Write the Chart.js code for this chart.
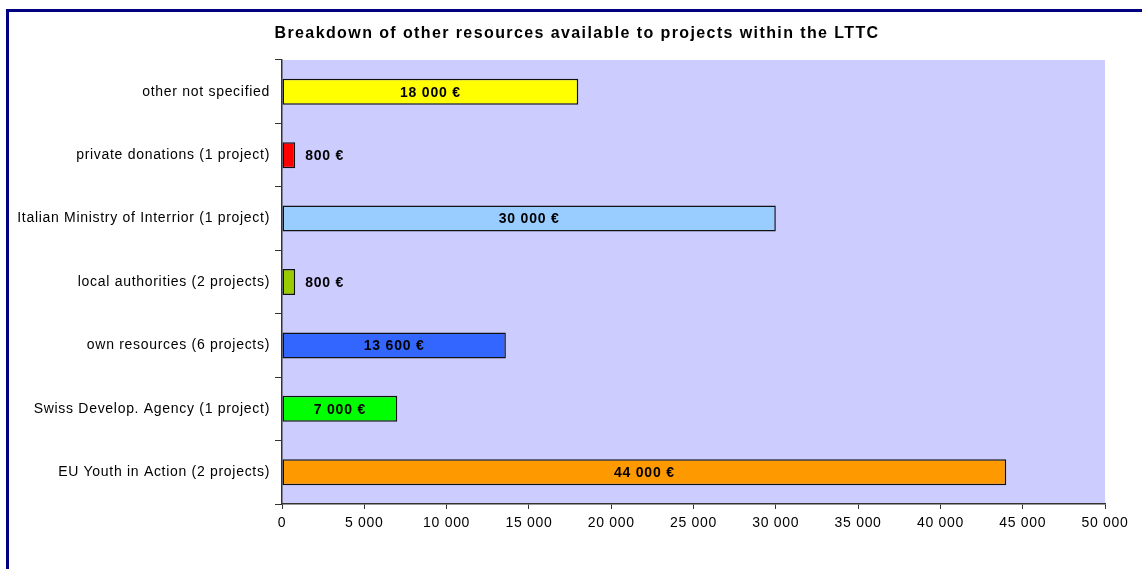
<!DOCTYPE html>
<html>
<head>
<meta charset="utf-8">
<script src="https://cdn.jsdelivr.net/npm/chart.js@4/dist/chart.umd.min.js"></script>
<style>
  html, body { margin: 0; padding: 0; background: #fff; overflow: hidden; }
  #wrap { position: relative; width: 1142px; height: 569px; }
  #frame { position: absolute; left: 6px; top: 9px; width: 1160px; height: 590px; border: 3px solid #000080; box-sizing: border-box; pointer-events: none; }
  canvas { position: absolute; left: 0; top: 0; }
</style>
</head>
<body>
<div id="wrap">
  <canvas id="grafico" width="1142" height="569"></canvas>
  <div id="frame"></div>
</div>
<script>
// Recursos por fonte (de cima para baixo)
const categorias = [
    'other not specified',
    'private donations (1 project)',
    'Italian Ministry of Interrior (1 project)',
    'local authorities (2 projects)',
    'own resources (6 projects)',
    'Swiss Develop. Agency (1 project)',
    'EU Youth in Action (2 projects)'
];
const valores = [18000, 800, 30000, 800, 13600, 7000, 44000];
const cores = ['#FFFF00', '#FF0000', '#99CCFF', '#99CC00', '#3366FF', '#00FF00', '#FF9900'];
const ticksX = [0, 5000, 10000, 15000, 20000, 25000, 30000, 35000, 40000, 45000, 50000];
const titulo = 'Breakdown of other resources available to projects within the LTTC';

const fonte = '"Liberation Sans", Arial, sans-serif';
const espaco = '0.7px';

function formatar(n) {
    return String(n).replace(/\B(?=(\d{3})+(?!\d))/g, ' ');
}

// texto um pouco mais largo
const espacamento = {
    id: 'espacamento',
    beforeLayout(chart) { chart.ctx.letterSpacing = espaco; },
    beforeDraw(chart) { chart.ctx.letterSpacing = espaco; }
};

// fundo lilás da área do gráfico
const fundoArea = {
    id: 'fundoArea',
    beforeDraw(chart) {
        const { ctx, chartArea: a } = chart;
        ctx.save();
        ctx.fillStyle = '#CCCCFF';
        ctx.fillRect(a.left, a.top, a.right - a.left, a.bottom - a.top);
        ctx.restore();
    }
};

// título
const tituloPlugin = {
    id: 'tituloPlugin',
    afterDraw(chart) {
        const ctx = chart.ctx;
        ctx.save();
        ctx.letterSpacing = '1.4px';
        ctx.font = 'bold 16px ' + fonte;
        ctx.fillStyle = '#000';
        ctx.textAlign = 'center';
        ctx.textBaseline = 'middle';
        ctx.fillText(titulo, 577, 34);
        ctx.restore();
    }
};

// rótulos de valor: dentro da barra, ou à direita se a barra for curta
const rotulos = {
    id: 'rotulos',
    afterDatasetsDraw(chart) {
        const ctx = chart.ctx;
        const meta = chart.getDatasetMeta(0);
        ctx.save();
        ctx.letterSpacing = '0.8px';
        ctx.font = 'bold 14px ' + fonte;
        ctx.fillStyle = '#000';
        ctx.textBaseline = 'middle';
        meta.data.forEach((bar, i) => {
            const texto = formatar(valores[i]) + ' €';
            const largura = bar.x - bar.base;
            if (largura > ctx.measureText(texto).width + 10) {
                ctx.textAlign = 'center';
                ctx.fillText(texto, (bar.x + bar.base) / 2, bar.y + 1);
            } else {
                ctx.textAlign = 'left';
                ctx.fillText(texto, bar.x + 10, bar.y + 1);
            }
        });
        ctx.restore();
    }
};

const ctx = document.getElementById('grafico').getContext('2d');
const grafico = new Chart(ctx, {
    type: 'bar',
    data: {
        labels: categorias,
        datasets: [{
            data: valores,
            backgroundColor: cores,
            borderColor: '#111',
            borderWidth: 1.5,
            borderSkipped: false,
            barPercentage: 0.41,
            categoryPercentage: 1
        }]
    },
    options: {
        indexAxis: 'y',
        responsive: false,
        animation: false,
        layout: { padding: { left: 0, right: 37, top: 60, bottom: 0 } },
        plugins: {
            legend: { display: false },
            tooltip: { enabled: false },
            title: { display: false }
        },
        scales: {
            x: {
                min: 0,
                max: 50000,
                afterBuildTicks(scale) {
                    scale.ticks = ticksX.map(v => ({ value: v }));
                },
                afterFit(scale) { scale.height = 65; },
                grid: { drawOnChartArea: false, tickLength: 5, color: '#333' },
                border: { color: '#333', width: 1.5 },
                ticks: {
                    color: '#000',
                    padding: 6,
                    maxRotation: 0,
                    font: { family: fonte, size: 14 },
                    callback: v => formatar(v)
                }
            },
            y: {
                afterFit(scale) { scale.width = 282; },
                grid: { drawOnChartArea: false, offset: true, tickLength: 7, color: '#333' },
                border: { color: '#333', width: 1.5 },
                ticks: {
                    color: '#000',
                    padding: 5,
                    font: { family: fonte, size: 14 }
                }
            }
        }
    },
    plugins: [espacamento, fundoArea, rotulos, tituloPlugin]
});
</script>
</body>
</html>
